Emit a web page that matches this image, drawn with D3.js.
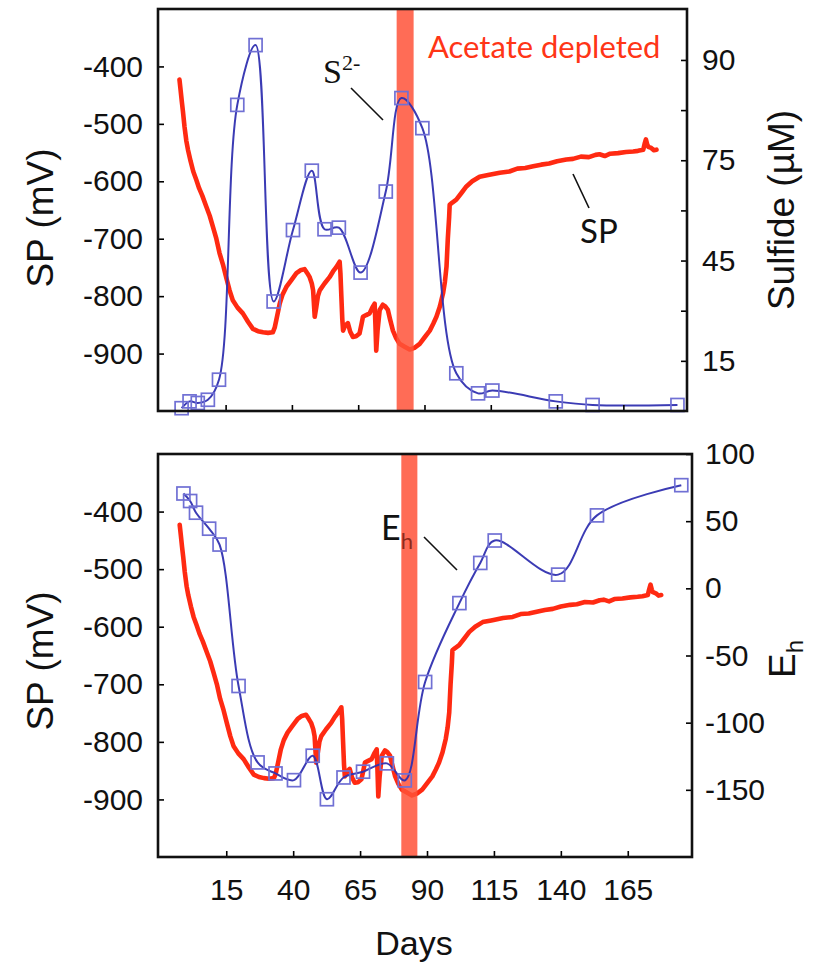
<!DOCTYPE html>
<html><head><meta charset="utf-8">
<script src="https://cdn.jsdelivr.net/npm/d3@7"></script>
<style>body{margin:0;background:#fff}svg{display:block}</style>
</head><body>
<svg id="chart" width="823" height="964"></svg>
<script>
// ---------- DATA ----------
const spDays = [-2.4,-2.0,-1.5,-1.1,-0.5,0.2,0.8,1.8,2.8,3.9,5.0,6.2,7.7,9.0,10.2,11.5,12.7,14.0,15.2,16.5,17.7,19.5,21.5,23.5,25.3,27.2,29.1,31.0,32.8,33.5,34.1,35.4,36.5,37.9,39.8,41.7,43.2,44.8,45.8,46.7,47.5,48.0,48.6,49.2,49.8,50.5,52.3,54.2,55.5,56.8,58.0,58.3,58.6,59.0,59.3,60.0,61.1,62.0,63.0,64.2,65.5,66.2,66.8,68.0,69.3,70.3,71.2,71.5,71.8,72.3,73.1,74.3,75.2,76.2,77.0,78.1,79.3,80.6,82.5,84.4,86.2,88.2,90.0,92.0,93.3,94.5,95.8,97.0,97.7,98.3,98.8,99.3,99.5,100.5,102.0,104.0,105.8,108.0,110.8,114.0,118.4,122.0,125.0,128.0,131.0,134.0,137.0,140.0,143.5,146.0,149.0,152.0,154.5,156.0,158.0,160.0,163.0,166.0,168.7,170.5,172.5,173.0,173.5,174.0,174.4,175.5,176.5,177.5];
const spValues = [-423,-440,-462,-478,-505,-530,-545,-565,-583,-597,-612,-625,-644,-660,-679,-700,-725,-745,-767,-790,-807,-820,-830,-845,-857,-861,-863,-864,-863,-855,-842,-813,-797,-784,-772,-760,-755,-753,-760,-767,-778,-790,-836,-819,-800,-790,-778,-767,-757,-749,-740,-760,-795,-840,-860,-852,-847,-862,-871,-870,-865,-850,-836,-833,-830,-820,-813,-850,-895,-860,-824,-815,-818,-824,-840,-860,-873,-883,-888,-893,-890,-883,-872,-860,-848,-836,-818,-795,-775,-749,-700,-662,-641,-637,-632,-620,-609,-600,-592,-589,-585,-583,-578,-577,-574,-571,-569,-565,-562,-561,-557,-558,-554,-553,-556,-552,-551,-549,-548,-547,-545,-535,-527,-536,-540,-542,-546,-545];

const sulfideDays = [-1.6,1.4,4.5,8.3,12.5,19.4,26.3,33.1,40.4,47.5,52.3,57.7,65.9,75.4,81.3,89.2,102.0,110.2,115.6,139.5,153.4,185.4];
const sulfideValues = [3.2,4.9,4.5,5.3,10.3,78.8,93.7,29.8,47.6,62.4,47.8,48.2,37.0,57.2,80.5,73.0,11.9,6.9,7.6,4.9,4.0,4.0];

const ehDays = [-1.0,1.5,3.7,8.6,12.5,19.6,26.7,33.4,40.3,47.3,52.6,58.8,66.1,75.0,81.7,89.3,102.1,109.9,115.3,139.0,153.5,185.0];
const ehValues = [70.6,65.0,56.3,44.4,32.6,-72.7,-129.6,-137.8,-142.8,-124.6,-157.0,-140.8,-136.5,-130.3,-143.0,-69.7,-11.0,18.9,35.6,10.2,54.3,76.8];

const acetateTop = [79.5, 85.9];
const acetateBottom = [80.4, 86.4];

const dayTicks = [15,40,65,90,115,140,165];
const spTicks = [-400,-500,-600,-700,-800,-900];
const sulfideTicks = [90,77.5,65,52.5,40,27.5,15];
const sulfideTickLabels = ["90","","75","","45","","15"];
const ehTicks = [100,50,0,-50,-100,-150];

// ---------- LAYOUT ----------
const svg = d3.select("#chart");
const tickFont = "'Liberation Sans', Arial, sans-serif";
const annFont = "Lato, 'Open Sans', sans-serif";
const RED = "#ff2a12", BLUE = "#3030b0", SQ = "#7070d4", BAR = "#ff5238";

const P1 = {l:158, r:687, t:9, b:411};
const P2 = {l:158, r:692, t:454, b:857};

const x1 = d3.scaleLinear().domain([-10.5,189]).range([P1.l,P1.r]);
const x2 = d3.scaleLinear().domain([-10.5,189]).range([P2.l,P2.r]);
const ySP1 = d3.scaleLinear().domain([-1000,-300]).range([P1.b,P1.t]);
const ySP2 = d3.scaleLinear().domain([-1000,-300]).range([P2.b,P2.t]);
const ySul = d3.scaleLinear().domain([2.5,102.7]).range([P1.b,P1.t]);
const yEh = d3.scaleLinear().domain([-200,100]).range([P2.b,P2.t]);

function styleAxis(g){
  g.select(".domain").remove();
  g.selectAll(".tick line").attr("stroke","#000").attr("stroke-width",1.6);
  g.selectAll(".tick text").attr("font-family",tickFont).attr("font-size",30).attr("fill","#111");
}

function panel(P, x, ySP, yR, rDays, rVals, rTicks, rFmt, rPad, bar, showX){
  const g = svg.append("g");
  const spLine = d3.line().x((d,i)=>x(spDays[i])).y((d,i)=>ySP(spValues[i])).curve(d3.curveLinear);
  g.append("path").datum(spValues).attr("d",spLine)
    .attr("fill","none").attr("stroke",RED).attr("stroke-width",4.6)
    .attr("stroke-linejoin","round").attr("stroke-linecap","round");
  g.append("rect").attr("x",x(bar[0])).attr("width",x(bar[1])-x(bar[0]))
    .attr("y",P.t-1).attr("height",P.b-P.t+1).attr("fill",BAR).attr("opacity",0.85);
  const annG = g.append("g");
  const pts = rDays.map((d,i)=>[x(d), yR(rVals[i])]);
  g.append("path").datum(pts).attr("d",d3.line().curve(d3.curveCatmullRom.alpha(0.5)))
    .attr("fill","none").attr("stroke",BLUE).attr("stroke-width",2).attr("opacity",0.95);
  g.selectAll("rect.sq").data(pts).join("rect").attr("class","sq")
    .attr("x",d=>d[0]-6.5).attr("y",d=>d[1]-6.5).attr("width",13).attr("height",13)
    .attr("fill","none").attr("stroke",SQ).attr("stroke-width",1.7);
  g.append("g").attr("transform",`translate(${P.l},0)`)
    .call(d3.axisLeft(ySP).tickValues(spTicks).tickSize(-6).tickPadding(15).tickFormat(d=>String(d))).call(styleAxis);
  g.append("g").attr("transform",`translate(${P.r},0)`)
    .call(d3.axisRight(yR).tickValues(rTicks).tickSize(-6).tickPadding(rPad).tickFormat(rFmt)).call(styleAxis);
  const xa = d3.axisBottom(x).tickValues(dayTicks).tickSize(-6).tickPadding(22).tickFormat(d=>showX?String(d):"");
  g.append("g").attr("transform",`translate(0,${P.b})`).call(xa).call(styleAxis);
  g.append("rect").attr("x",P.l).attr("y",P.t).attr("width",P.r-P.l).attr("height",P.b-P.t)
    .attr("fill","none").attr("stroke","#111").attr("stroke-width",2.6);
  return annG;
}

const ann1 = panel(P1, x1, ySP1, ySul, sulfideDays, sulfideValues, sulfideTicks,
  (d,i)=>sulfideTickLabels[i], 15, acetateTop, false);
const ann2 = panel(P2, x2, ySP2, yEh, ehDays, ehValues, ehTicks,
  d=>String(d), 13, acetateBottom, true);

// ---------- TITLES ----------
function vtitle(x,y,txt){
  return svg.append("text").attr("transform",`translate(${x},${y}) rotate(-90)`)
    .attr("text-anchor","middle").attr("font-family",tickFont).attr("font-size",37)
    .attr("fill","#111").text(txt);
}
vtitle(53,218,"SP (mV)");
vtitle(53,661,"SP (mV)");
vtitle(794,210,"Sulfide (\u00b5M)");
const eh = svg.append("text").attr("transform","translate(795,678) rotate(-90)")
  .attr("font-family",tickFont).attr("font-size",37).attr("fill","#111");
eh.append("tspan").text("E");
eh.append("tspan").attr("font-size",24).attr("dy",8).text("h");
svg.append("text").attr("x",414).attr("y",955).attr("text-anchor","middle")
  .attr("font-family",tickFont).attr("font-size",34).attr("fill","#111").text("Days");

// ---------- ANNOTATIONS ----------
svg.append("text").attr("x",428).attr("y",58).attr("font-family",annFont)
  .attr("font-size",31).attr("fill","#ff3516").text("Acetate depleted");
const s2 = svg.append("text").attr("x",323).attr("y",83).attr("font-family","'Liberation Serif', 'Times New Roman', serif")
  .attr("font-size",34).attr("fill","#111");
s2.append("tspan").text("S");
s2.append("tspan").attr("font-size",22).attr("dy",-13).text("2-");
svg.append("line").attr("x1",351).attr("y1",88).attr("x2",383).attr("y2",120).attr("stroke","#111").attr("stroke-width",1.6);

svg.append("text").attr("x",580).attr("y",243).attr("font-family",annFont)
  .attr("font-size",33).attr("fill","#111").text("SP");
svg.append("line").attr("x1",573).attr("y1",174).attr("x2",589).attr("y2",208).attr("stroke","#111").attr("stroke-width",1.6);

const ehA = ann2.append("text").attr("x",381).attr("y",540).attr("font-family",annFont)
  .attr("font-size",34).attr("fill","#111");
ehA.append("tspan").text("E");
ehA.append("tspan").attr("font-size",22).attr("dy",9).attr("fill","#8e2a1c").text("h");
svg.append("line").attr("x1",424).attr("y1",537).attr("x2",457).attr("y2",570).attr("stroke","#111").attr("stroke-width",1.6);
</script>
</body></html>
